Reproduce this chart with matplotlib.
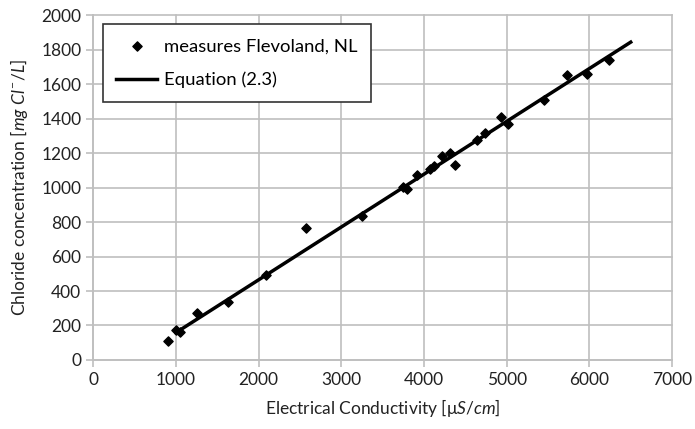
import numpy as np
import matplotlib
matplotlib.use('Agg')
import matplotlib.pyplot as plt

plt.rcParams['font.family'] = ['Lato', 'DejaVu Sans']
plt.rcParams['mathtext.fontset'] = 'custom'
plt.rcParams['mathtext.rm'] = 'Lato'
plt.rcParams['mathtext.it'] = 'Lato:italic'

# measured points (EC in uS/cm, chloride in mg/L)
ec = [900, 1000, 1050, 1250, 1630, 2090, 2570, 3250, 3750, 3800, 3910,
      4070, 4120, 4220, 4310, 4380, 4640, 4740, 4930, 5020, 5450, 5730,
      5970, 6240]
cl = [110, 175, 160, 270, 335, 495, 765, 835, 1005, 995, 1075,
      1110, 1125, 1185, 1200, 1130, 1275, 1315, 1410, 1370, 1510, 1655,
      1660, 1740]

# equation (2.3) end points
eq_x = [1000, 6500]
eq_y = [158, 1845]

grid_col = '#bfbfbf'

fig = plt.figure(figsize=(6.95, 4.29), dpi=100)
ax = fig.add_axes([0.134, 0.161, 0.833, 0.803])

ax.scatter(ec, cl, marker='D', s=22, color='black', zorder=3,
           label='measures Flevoland, NL')
ax.plot(eq_x, eq_y, color='black', lw=2.5, zorder=4, label='Equation (2.3)')

ax.set_xlim(0, 7000)
ax.set_ylim(0, 2000)
ax.set_xticks(np.arange(0, 7001, 1000))
ax.set_yticks(np.arange(0, 2001, 200))
ax.grid(True, color=grid_col, lw=1.2, clip_on=False)
ax.set_axisbelow(True)
for s in ['top', 'right']:
    ax.spines[s].set_visible(False)
for s in ['left', 'bottom']:
    ax.spines[s].set_color(grid_col)
    ax.spines[s].set_linewidth(1.2)
ax.tick_params(colors=grid_col, labelcolor='#222222', labelsize=12.5,
               length=5, width=1.2, direction='out')

ax.set_xlabel(r'Electrical Conductivity [μ$\mathit{S/cm}$]', fontsize=12.5,
              color='#222222', labelpad=7)
ax.set_ylabel(r'Chloride concentration [$\mathit{mg\ Cl^{-}/L}$]', fontsize=12.5,
              color='#222222', labelpad=8)

leg = ax.legend(loc='upper left', bbox_to_anchor=(0.01, 0.985), fancybox=False,
                edgecolor='#333333', framealpha=1, fontsize=13.3,
                handlelength=2.2, borderpad=0.75, labelspacing=0.95,
                handletextpad=0.35, borderaxespad=0.2)
leg.get_frame().set_linewidth(1.2)

fig.savefig('out.png', dpi=100)
